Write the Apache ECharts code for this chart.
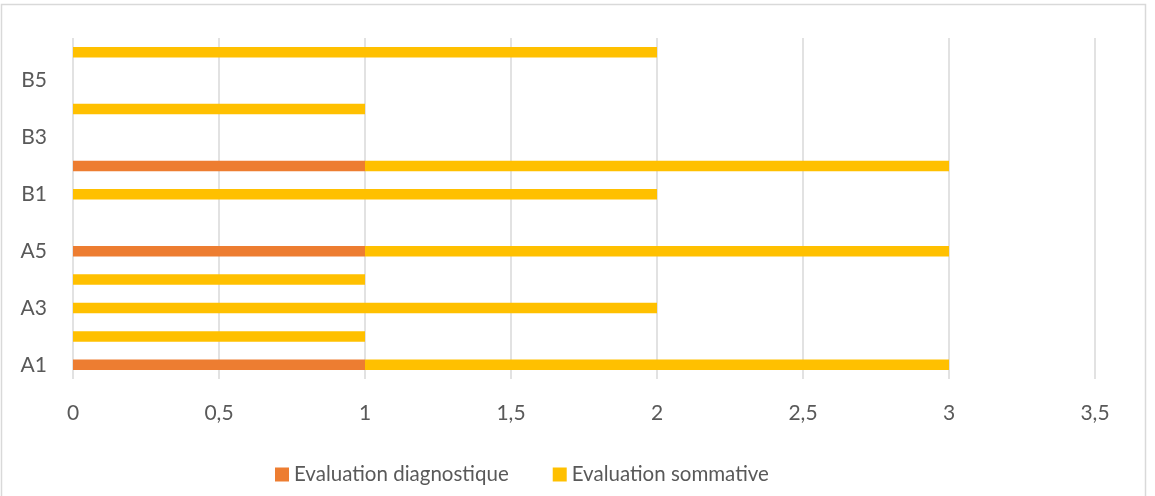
<!DOCTYPE html>
<html><head><meta charset="utf-8">
<script src="https://cdn.jsdelivr.net/npm/echarts@6/dist/echarts.min.js"></script>
<style>html,body{margin:0;padding:0;background:#fff}#c{width:1155px;height:496px}</style>
</head><body><div id="c"></div>
<script>
const categories = ['A1','A2','A3','A4','A5','A6','B1','B2','B3','B4','B5','B6'];
const diagnostique = [1,0,0,0,1,0,0,1,0,0,0,0];
const sommative = [2,1,2,1,2,0,2,2,0,1,0,2];
const xTicks = [0,0.5,1,1.5,2,2.5,3,3.5];
const FONT = 'Lato, "Open Sans", sans-serif';
const chart = echarts.init(document.getElementById('c'));
chart.setOption({
  animation:false,
  textStyle:{fontFamily:FONT},
  graphic:[{type:'rect',shape:{x:1.5,y:4.5,width:1144,height:500},style:{fill:'none',stroke:'#d9d9d9',lineWidth:1.5},silent:true}],
  grid:{left:73,right:60,top:38,bottom:117,containLabel:false},
  legend:{top:464,left:275,itemWidth:14,itemHeight:14,itemGap:44,icon:'rect',padding:0,
    textStyle:{color:'#595959',fontSize:20.5,fontFamily:FONT},
    data:['Evaluation diagnostique','Evaluation sommative']},
  xAxis:{type:'value',min:0,max:3.5,interval:0.5,
    axisLine:{show:false},axisTick:{show:false},
    splitLine:{lineStyle:{color:'#d9d9d9',width:1.5}},
    axisLabel:{color:'#595959',fontSize:21,margin:24,formatter:v=>String(v).replace('.',',')}},
  yAxis:{type:'category',data:categories,
    axisLine:{show:false},axisTick:{show:false},
    axisLabel:{color:'#595959',fontSize:21,margin:26,interval:1}},
  series:[
    {name:'Evaluation diagnostique',type:'bar',stack:'s',data:diagnostique,barWidth:10.5,itemStyle:{color:'#ED7D31'}},
    {name:'Evaluation sommative',type:'bar',stack:'s',data:sommative,barWidth:10.5,itemStyle:{color:'#FFC000'}}
  ]
});
</script></body></html>
